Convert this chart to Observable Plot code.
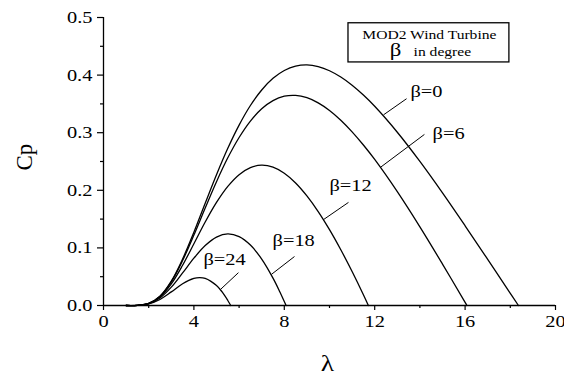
<!DOCTYPE html>
<html>
<head>
<meta charset="utf-8">
<script src="https://cdn.jsdelivr.net/npm/d3@7"></script>
<script src="https://cdn.jsdelivr.net/npm/@observablehq/plot@0.6"></script>
<style>
  body { margin: 0; background: #fff; }
  #chart { width: 564px; height: 374px; }
</style>
</head>
<body>
<div id="chart"></div>
<script>
// ---- Data ----
const lam0 = [1,1.5,2,2.5,3,3.5,4,4.5,5,5.5,6,6.5,7,7.5,8,8.5,9,9.5,10,10.5,11,11.5,12,13,14,15,16,17,18,18.36];
const cp0  = [0,0.0003,0.0037,0.0163,0.0423,0.0807,0.1272,0.1775,0.2270,0.2729,0.3132,0.3472,0.3742,0.3944,0.4080,0.4155,0.4176,0.4147,0.4076,0.3966,0.3824,0.3653,0.3458,0.3008,0.2501,0.1955,0.1384,0.0800,0.0210,0];

const lam6 = [1,1.5,2,2.5,3,3.5,4,4.5,5,5.5,6,6.5,7,7.5,8,8.5,9,9.5,10,10.5,11,11.5,12,13,14,15,16,16.08];
const cp6  = [0,0.0003,0.0036,0.0160,0.0411,0.0780,0.1222,0.1693,0.2150,0.2564,0.2917,0.3202,0.3416,0.3558,0.3634,0.3648,0.3608,0.3518,0.3386,0.3217,0.3015,0.2786,0.2535,0.1976,0.1365,0.0719,0.0055,0];

const lam12 = [1,1.5,2,2.5,3,3.5,4,4.5,5,5.5,6,6.5,7,7.5,8,8.5,9,9.5,10,10.5,11,11.5,11.72];
const cp12  = [0,0.0003,0.0034,0.0149,0.0376,0.0699,0.1072,0.1449,0.1789,0.2068,0.2272,0.2395,0.2437,0.2403,0.2297,0.2128,0.1903,0.1631,0.1317,0.0968,0.0590,0.0187,0];

const lam18 = [1,1.5,2,2.5,3,3.5,4,4.5,5,5.5,6,6.5,7,7.5,7.8,8.08];
const cp18  = [0,0.0003,0.0031,0.0131,0.0318,0.0565,0.0821,0.1041,0.1188,0.1243,0.1196,0.1049,0.0806,0.0476,0.0240,0];

const lam24 = [1,1.5,2,2.5,3,3.5,4,4.25,4.5,5,5.25,5.5,5.63];
const cp24  = [0,0.0002,0.0027,0.0105,0.0236,0.0377,0.0470,0.0484,0.0471,0.0347,0.0235,0.0087,0];

const betas = [0, 6, 12, 18, 24];

const xTicks = [0, 4, 8, 12, 16, 20];
const xMinor = [2, 6, 10, 14, 18];
const yTicks = [0, 0.1, 0.2, 0.3, 0.4, 0.5];
const yMinor = [0.05, 0.15, 0.25, 0.35, 0.45];

// curve labels (anchor in data units) and leader lines
const labelText = ["β=0", "β=6", "β=12", "β=18", "β=24"];
const labelLam  = [13.58, 14.56, 10.0, 7.48, 4.42];
const labelCp   = [0.372, 0.299, 0.209, 0.112, 0.079];
const leadLam1  = [13.41, 14.20, 10.84, 8.45, 5.97];
const leadCp1   = [0.359, 0.297, 0.179, 0.085, 0.057];
const leadLam2  = [12.39, 12.26, 9.73, 7.43, 5.18];
const leadCp2   = [0.331, 0.240, 0.149, 0.054, 0.028];

// legend box
const legendTitle = "MOD2 Wind Turbine";
const legendSym = "β";
const legendUnit = "in degree";

// ---- build tables ----
const series = [[lam0, cp0], [lam6, cp6], [lam12, cp12], [lam18, cp18], [lam24, cp24]];
const rows = series.flatMap(([l, c], k) => l.map((v, i) => ({beta: betas[k], lambda: v, cp: c[i]})));
const labels = labelText.map((t, i) => ({t, x: labelLam[i], y: labelCp[i]}));
const leaders = labelText.map((t, i) => ({x1: leadLam1[i], y1: leadCp1[i], x2: leadLam2[i], y2: leadCp2[i]}));

const serif = "'Liberation Serif', 'Times New Roman', serif";

const chart = Plot.plot({
  width: 564,
  height: 374,
  marginLeft: 103,
  marginRight: 9,
  marginTop: 17,
  marginBottom: 69,
  style: {fontFamily: serif, background: "#fff", color: "#000", overflow: "visible"},
  x: {domain: [0, 20]},
  y: {domain: [0, 0.5]},
  marks: [
    Plot.axisX({ticks: xTicks, tickSize: 5, tickPadding: 4, fontSize: 17, label: null, tickFormat: d => String(d), strokeWidth: 1.2}),
    Plot.axisX({ticks: xMinor, tickSize: 3, label: null, tickFormat: () => "", strokeWidth: 1.2}),
    Plot.axisY({ticks: yTicks, tickSize: 6, tickPadding: 5, fontSize: 17, label: null, tickFormat: d3.format(".1f"), strokeWidth: 1.2}),
    Plot.axisY({ticks: yMinor, tickSize: 3, label: null, tickFormat: () => "", strokeWidth: 1.2}),
    Plot.ruleY([0], {stroke: "#000", strokeWidth: 1.3}),
    Plot.ruleX([0], {stroke: "#000", strokeWidth: 1.3}),
    Plot.line(rows, {x: "lambda", y: "cp", z: "beta", stroke: "#000", strokeWidth: 1.3, curve: "catmull-rom"}),
    Plot.link(leaders, {x1: "x1", y1: "y1", x2: "x2", y2: "y2", stroke: "#000", strokeWidth: 1}),
    Plot.text(labels, {x: "x", y: "y", text: "t", textAnchor: "start", lineAnchor: "middle", fontSize: 17, fill: "#000"}),
    Plot.rect([{x1: 10.84, x2: 17.96, y1: 0.422, y2: 0.490}], {x1: "x1", x2: "x2", y1: "y1", y2: "y2", fill: "#fff", stroke: "#000", strokeWidth: 1.3}),
    Plot.text([legendTitle], {x: 14.42, y: 0.4705, text: d => d, textAnchor: "middle", lineAnchor: "middle", fontSize: 13, fill: "#000"}),
    Plot.text([legendSym], {x: 12.92, y: 0.4444, text: d => d, textAnchor: "middle", lineAnchor: "middle", fontSize: 19, fill: "#000"}),
    Plot.text([legendUnit], {x: 13.72, y: 0.441, text: d => d, textAnchor: "start", lineAnchor: "middle", fontSize: 13, fill: "#000"}),
    Plot.text(["Cp"], {frameAnchor: "left", dx: -79, dy: 9, rotate: -90, text: d => d, fontSize: 23, fill: "#000", lineAnchor: "middle"}),
    Plot.text(["λ"], {frameAnchor: "bottom", dx: -2, dy: 58, text: d => d, fontSize: 23, fill: "#000", lineAnchor: "middle"})
  ]
});

document.getElementById("chart").appendChild(chart);

// horizontal stretch of the glyphs about each text's own anchor (guarded: reverted if it moves the text)
chart.querySelectorAll("text").forEach(t => {
  try {
    const old = t.getAttribute("transform");
    if ((old || "").includes("rotate")) return;
    const before = t.getBoundingClientRect();
    if (!before.width) return;
    const bb = t.getBBox();
    const anchor = getComputedStyle(t).textAnchor;
    const ax = anchor === "end" ? bb.x + bb.width : anchor === "middle" ? bb.x + bb.width / 2 : bb.x;
    t.setAttribute("transform", `${old || ""} translate(${ax},0) scale(1.2,1) translate(${-ax},0)`.trim());
    const after = t.getBoundingClientRect();
    const cb = (before.left + before.right) / 2, ca = (after.left + after.right) / 2;
    if (Math.abs(cb - ca) > before.width || Math.abs(before.top - after.top) > 1) {
      if (old == null) t.removeAttribute("transform"); else t.setAttribute("transform", old);
    }
  } catch (e) {}
});
</script>
</body>
</html>
